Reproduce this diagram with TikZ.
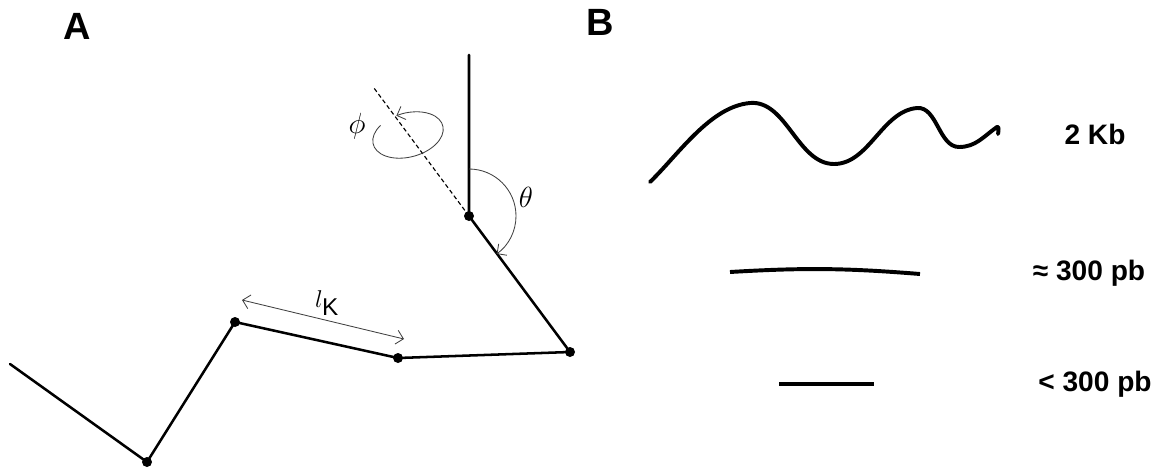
\documentclass[tikz,border=0pt]{standalone}
\usepackage{fontspec}
\setsansfont{Liberation Sans}
\usetikzlibrary{arrows.meta, positioning, calc}

\begin{document}
\begin{tikzpicture}[x=0.025cm, y=0.025cm,
    chain/.style={line width=1.8pt, line cap=round, line join=round},
    strand/.style={line width=2.8pt},
    guide/.style={black!75, line width=0.6pt},
    tag/.style={font=\sffamily\bfseries\fontsize{20}{24}\selectfont},
    panel/.style={font=\sffamily\bfseries\fontsize{27}{30}\selectfont}]
  \useasboundingbox (0,0) rectangle (1161,-468);

  % panel A: segment chain
  \coordinate (c0) at (10,-364);
  \coordinate (c1) at (147,-462);
  \coordinate (c2) at (235,-322);
  \coordinate (c3) at (398,-358);
  \coordinate (c4) at (570,-352);
  \coordinate (c5) at (469,-216);
  \coordinate (top) at (469,-55);
  \coordinate (axis) at ($(c4)!1.94!(c5)$);

  \draw[chain] (c0) -- (c1) -- (c2) -- (c3) -- (c4) -- (c5) -- (top);
  \foreach \p in {c1,c2,c3,c4,c5}
    \fill (\p) circle (5);
  \draw[dash pattern=on 3pt off 2pt, line width=0.8pt] (c5) -- (axis);

  % rotation about the axis
  \begin{scope}[shift={(408,-135)}, rotate=15]
    \draw[guide, -{Straight Barb[length=5pt]}] ({36*cos(132)},{22*sin(132)})
      arc[start angle=132, end angle=460, x radius=36, y radius=22];
  \end{scope}
  \node[font=\huge] (phi) at (357,-126) {$\phi$};

  % bending angle
  \draw[guide, -{Straight Barb[length=5pt]}] ($(c5)+(0,47)$)
    arc[start angle=90, end angle=-54, radius=47];
  \node[font=\huge] (theta) at (526,-197) {$\theta$};

  % Kuhn length
  \coordinate (lk1) at (242,-300);
  \coordinate (lk2) at (404,-339);
  \draw[guide, {Straight Barb[length=5pt]}-{Straight Barb[length=5pt]}] (lk1) -- (lk2);
  \node[font=\LARGE] (lk) at (327,-303) {$l_{\textsf{K}}$};

  % panel B: fragments
  \draw[strand, line cap=round, line join=round] (650,-182)
    to[out=44, in=185, looseness=0.8] (750,-103)
    to[out=5, in=180, looseness=0.9] (834,-164)
    to[out=0, in=185, looseness=0.9] (917,-108)
    to[out=5, in=180, looseness=0.9] (959,-147)
    to[out=0, in=215] (997,-127)
    to[out=35, in=80] (998,-134);
  \draw[strand] (730,-272) to[bend left=4] (920,-274);
  \draw[strand] (779,-384) -- (874,-384);

  \node[tag] (kb) at (1095,-134) {2 Kb};
  \node[tag] (approx) at (1089,-273) {≈ 300 pb};
  \node[tag] (less) at (1095,-384) {< 300 pb};

  \node[panel] (A) at (77,-26) {A};
  \node[panel] (B) at (600,-22) {B};
\end{tikzpicture}
\end{document}
